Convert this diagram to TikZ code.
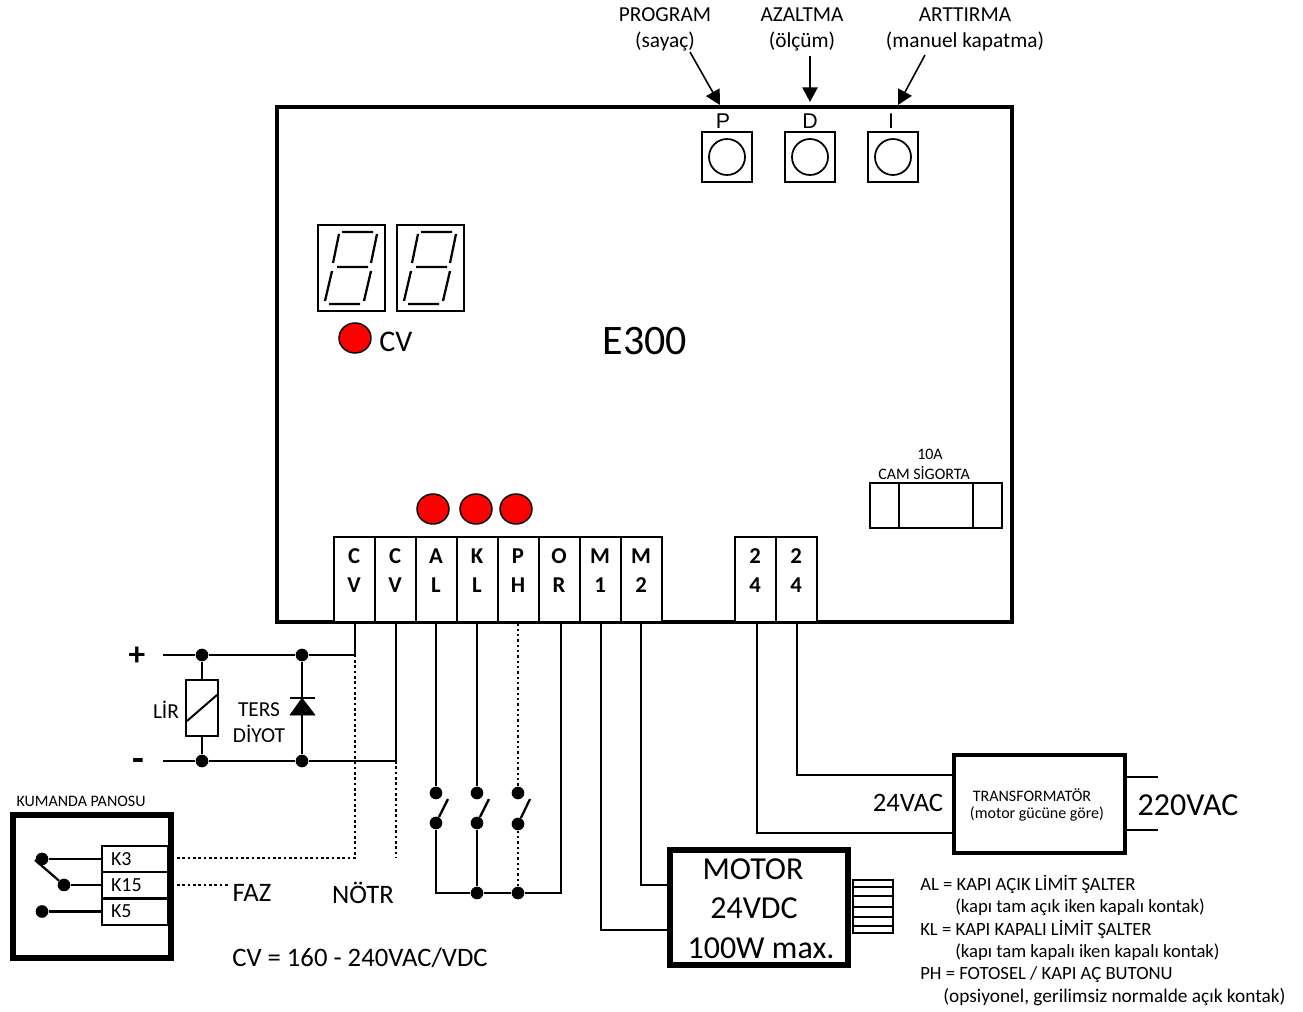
\documentclass[tikz,border=0pt]{standalone}
\usepackage{fontspec}
\setmainfont{Carlito}
\newfontfamily\arialfont{Liberation Sans}
\usetikzlibrary{arrows.meta,shapes.geometric}
\tikzset{
  wire/.style={line width=1.7pt},
  dotwire/.style={line width=2.2pt,dash pattern=on 1.9pt off 2.1pt},
  term/.style={draw,line width=1.5pt,fill=white,minimum width=30.75pt,minimum height=64pt,inner sep=0pt,align=center,font=\fontsize{17}{21.5}\selectfont\bfseries},
  kterm/.style={draw,line width=1.5pt,fill=white,minimum width=49.5pt,minimum height=19.5pt,inner sep=0pt,text width=36pt,font=\fontsize{15}{18}\selectfont},
  btn/.style={draw,line width=1.5pt,minimum size=38pt,inner sep=0pt},
  knob/.style={draw,line width=1.3pt,circle,minimum size=27pt,inner sep=0pt},
  led/.style={draw,line width=1.1pt,ellipse,fill=red,minimum width=24pt,minimum height=22.5pt,inner sep=0pt},
  jdot/.style={circle,fill,inner sep=0pt,minimum size=9.5pt},
  lbl/.style={inner sep=0pt,align=center,font=\fontsize{#1}{#1}\selectfont},
  toplbl/.style={inner sep=0pt,align=center,font=\fontsize{16}{19.5}\selectfont},
  pointer/.style={line width=1.2pt,-{Triangle[length=11pt,width=11.5pt]}}
}
\begin{document}
\begin{tikzpicture}[x=0.75pt,y=-0.75pt]
\useasboundingbox (0,0) rectangle (1303,1012);

% controller
\draw [line width=3.4pt] (277,107) rectangle (1012,622);
\node (E300) at (645,341) [lbl=31.5] {E300};

% buttons
\node (btnP) at (727,157) [btn] {};
\node (btnD) at (810,157) [btn] {};
\node (btnI) at (893,157) [btn] {};
\node (knobP) at (btnP) [knob] {};
\node (knobD) at (btnD) [knob] {};
\node (knobI) at (btnI) [knob] {};
\node (letP) at (723,121) [lbl=16] {\arialfont P};
\node (letD) at (810,121) [lbl=16] {\arialfont D};
\node (letI) at (891,121) [lbl=16] {\arialfont I};
\node (txtP) at (665,29) [toplbl] {PROGRAM\\(sayaç)};
\node (txtD) at (802,29) [toplbl] {AZALTMA\\(ölçüm)};
\node (txtI) at (965,29) [toplbl] {ARTTIRMA\\(manuel kapatma)};
\coordinate (fromP) at (690,52);
\coordinate (toP) at (720,105);
\coordinate (fromD) at (810,56);
\coordinate (toD) at (810,102);
\coordinate (fromI) at (925,55);
\coordinate (toI) at (898,105);
\draw [pointer] (fromP) -- (toP);
\draw [pointer] (fromD) -- (toD);
\draw [pointer] (fromI) -- (toI);

% display
\draw [line width=1.5pt] (318,225) rectangle (385,311);
\draw [line width=1.5pt] (397,225) rectangle (464,311);
\draw [line width=1.7pt] (342,232) -- (373,232) (339,234) -- (333,263) (377,234) -- (371,263) (337,267) -- (368,267) (332,271) -- (325,301) (371,271) -- (364,301) (329,304) -- (360,304);
\draw [line width=1.7pt] (421,232) -- (452,232) (418,234) -- (412,263) (456,234) -- (450,263) (416,267) -- (447,267) (411,271) -- (404,301) (450,271) -- (443,301) (408,304) -- (439,304);
\node (ledCV) at (355,338) [led] {};
\node (txtCV) at (396,342) [lbl=22.5] {CV};

% fuse
\draw [line width=1.5pt] (870,483) rectangle (1002,528);
\draw [line width=1.5pt] (899,483) -- (899,528);
\draw [line width=1.5pt] (973,483) -- (973,528);
\node (txt10A) at (930,454) [lbl=12] {10A};
\node (txtFuse) at (924,473) [lbl=12] {CAM SİGORTA};

% leds and terminals
\node (ledAL) at (433,509) [led] {};
\node (ledKL) at (476,509) [led] {};
\node (ledPH) at (516,509) [led] {};
\node (tCVa) at (354,579.5) [term] {C\\V\\[-8pt]\mbox{}};
\node (tCVb) at (395,579.5) [term] {C\\V\\[-8pt]\mbox{}};
\node (tAL) at (436,579.5) [term] {A\\L\\[-8pt]\mbox{}};
\node (tKL) at (477,579.5) [term] {K\\L\\[-8pt]\mbox{}};
\node (tPH) at (518,579.5) [term] {P\\H\\[-8pt]\mbox{}};
\node (tOR) at (559,579.5) [term] {O\\R\\[-8pt]\mbox{}};
\node (tMa) at (600,579.5) [term] {M\\1\\[-8pt]\mbox{}};
\node (tMb) at (641,579.5) [term] {M\\2\\[-8pt]\mbox{}};
\node (tVa) at (755,579.5) [term] {2\\4\\[-8pt]\mbox{}};
\node (tVb) at (796,579.5) [term] {2\\4\\[-8pt]\mbox{}};

% supply side
\node (txtPlus) at (137,656) [inner sep=0pt,font=\fontsize{25}{25}\selectfont\bfseries] {+};
\node (txtMinus) at (138,765) [inner sep=0pt,font=\fontsize{29}{29}\selectfont\bfseries] {-};
\coordinate (endPlus) at (163,655);
\coordinate (endMinus) at (163,761);
\node (dPlusA) at (202,655) [jdot] {};
\node (dPlusB) at (302,655) [jdot] {};
\node (dMinusA) at (202,761) [jdot] {};
\node (dMinusB) at (302,761) [jdot] {};
\coordinate (cornerCVa) at (355,655);
\coordinate (cornerCVb) at (396,761);
\draw [wire] (endPlus) -- (dPlusA) -- (dPlusB) -- (cornerCVa) -- (tCVa.south -| cornerCVa);
\draw [wire] (endMinus) -- (dMinusA) -- (dMinusB) -- (cornerCVb) -- (tCVb.south -| cornerCVb);
\node (relay) at (202,708) [draw,line width=1.7pt,minimum width=23.5pt,minimum height=42pt,inner sep=0pt] {};
\draw [wire] (dPlusA) -- (relay);
\draw [wire] (dMinusA) -- (relay);
\draw [line width=1.5pt] (187,721) -- (217,695);
\node (txtLir) at (166,710) [lbl=16] {LİR};
\node (txtTers) at (259,722.5) [inner sep=0pt,align=center,font=\fontsize{16}{20}\selectfont] {TERS\\DİYOT};
\coordinate (diodeTip) at (302,698);
\coordinate (diodeBase) at (302,715);
\draw [wire] (dPlusB) -- (diodeTip);
\draw [wire] (diodeBase) -- (dMinusB);
\draw [line width=1.7pt] (290,698) -- (315,698);
\draw [fill] (302,698) -- (315,715) -- (290,715) -- cycle;

% control panel
\draw [line width=4.2pt] (13,815) rectangle (171,958);
\node (txtPanel) at (81,801) [lbl=12] {KUMANDA PANOSU};
\node (k3) at (135,859) [kterm] {K3};
\node (k15) at (135,885) [kterm] {K15};
\node (k5) at (135,911.5) [kterm] {K5};
\node (dKa) at (42,859) [jdot] {};
\node (dKb) at (64,885) [jdot] {};
\node (dKc) at (42,911.5) [jdot] {};
\draw [wire] (dKa) -- (k3);
\draw [wire] (dKb) -- (k15);
\draw [wire] (dKc) -- (k5);
\draw [wire] (35,860) -- (dKb);
\coordinate (endK3) at (177,858);
\coordinate (startK15) at (177,885);
\coordinate (endK15) at (230,885);
\coordinate (cornerK3) at (355,858);
\coordinate (endNotr) at (396,858);
\draw [dotwire] (endK3) -- (cornerK3) -- (cornerCVa);
\draw [dotwire] (startK15) -- (endK15);
\draw [dotwire] (cornerCVb) -- (endNotr);
\node (txtFaz) at (252,893) [lbl=20] {FAZ};
\node (txtNotr) at (363,893) [lbl=20] {NÖTR};
\node (txtCVrange) at (360,958) [lbl=20] {CV = 160 - 240VAC/VDC};

% limit switches
\node (swALa) at (436,793) [jdot] {};
\node (swALb) at (436,823) [jdot] {};
\node (swKLa) at (477,793) [jdot] {};
\node (swKLb) at (477,823) [jdot] {};
\node (swPHa) at (518,793) [jdot] {};
\node (swPHb) at (518,824) [jdot] {};
\node (busKL) at (477,893) [jdot] {};
\node (busPH) at (518,893) [jdot] {};
\coordinate (busAL) at (436,893);
\coordinate (busOR) at (561,893);
\draw [wire] (tAL.south) -- (swALa);
\draw [wire] (tKL.south) -- (swKLa);
\draw [dotwire] (tPH.south) -- (swPHa);
\draw [wire] (swALb) -- (busAL) -- (busKL) -- (busPH) -- (busOR) -- (tOR.south -| busOR);
\draw [wire] (swKLb) -- (busKL);
\draw [dotwire] (swPHb) -- (busPH);
\draw [wire] (swALb) -- +(12,-24);
\draw [wire] (swKLb) -- +(12,-24);
\draw [wire] (swPHb) -- +(12,-25);

% motor
\node (motor) at (759,907.5) [draw,line width=4.4pt,minimum width=133pt,minimum height=86pt,inner sep=0pt] {};
\node (txtMotorA) at (753,869) [lbl=24] {MOTOR};
\node (txtMotorB) at (754,908) [lbl=24] {24VDC};
\node (txtMotorC) at (761,948) [lbl=24] {100W max.};
\coordinate (cornerMa) at (601,930);
\coordinate (cornerMb) at (641,885);
\draw [wire] (tMa.south -| cornerMa) -- (cornerMa) -- (cornerMa -| motor.west);
\draw [wire] (tMb.south -| cornerMb) -- (cornerMb) -- (cornerMb -| motor.west);
\draw [line width=1.3pt] (853,880) rectangle (893,933);
\draw [line width=1.3pt] (853,887) -- (893,887);
\draw [line width=1.3pt] (853,896) -- (893,896);
\draw [line width=1.3pt] (853,907) -- (893,907);
\draw [line width=1.3pt] (853,917) -- (893,917);
\draw [line width=1.3pt] (853,926) -- (893,926);

% transformer
\node (trafo) at (1039.5,804) [draw,line width=3pt,minimum width=128pt,minimum height=73.5pt,inner sep=0pt] {};
\node (txtTrafoA) at (1032,795) [lbl=12] {TRANSFORMATÖR};
\node (txtTrafoB) at (1037,814) [lbl=12] {(motor gücüne göre)};
\coordinate (cornerVa) at (757,833);
\coordinate (cornerVb) at (797,775);
\coordinate (endAC) at (1158,777);
\coordinate (endACb) at (1158,830);
\draw [wire] (tVa.south -| cornerVa) -- (cornerVa) -- (cornerVa -| trafo.west);
\draw [wire] (tVb.south -| cornerVb) -- (cornerVb) -- (cornerVb -| trafo.west);
\draw [wire] (trafo.east |- endAC) -- (endAC);
\draw [wire] (trafo.east |- endACb) -- (endACb);
\node (txt24) at (908,803) [lbl=20] {24VAC};
\node (txt220) at (1188,805) [lbl=24] {220VAC};

% legend
\node (legAL) at (920,884) [lbl=14,anchor=west] {AL = KAPI AÇIK LİMİT ŞALTER};
\node (legALb) at (955,907) [lbl=14,anchor=west] {(kapı tam açık iken kapalı kontak)};
\node (legKL) at (920,929) [lbl=14,anchor=west] {KL = KAPI KAPALI LİMİT ŞALTER};
\node (legKLb) at (955,952) [lbl=14,anchor=west] {(kapı tam kapalı iken kapalı kontak)};
\node (legPH) at (920,975) [lbl=14,anchor=west] {PH = FOTOSEL / KAPI AÇ BUTONU};
\node (legPHb) at (943,997) [lbl=14.5,anchor=west] {(opsiyonel, gerilimsiz normalde açık kontak)};
\end{tikzpicture}
\end{document}
